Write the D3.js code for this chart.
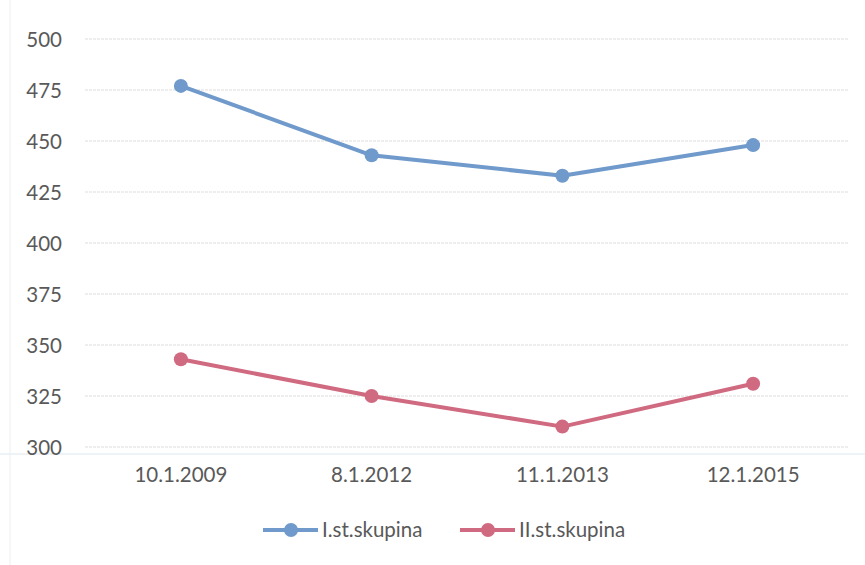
<!DOCTYPE html>
<html><head><meta charset="utf-8">
<script src="https://cdn.jsdelivr.net/npm/d3@7"></script>
<style>body{margin:0;background:#fff}svg{display:block}</style>
</head><body><svg id="c" width="865" height="565"></svg>
<script>
const categories = ["10.1.2009", "8.1.2012", "11.1.2013", "12.1.2015"];
const series1Name = "I.st.skupina";
const series1 = [477, 443, 433, 448];
const series2Name = "II.st.skupina";
const series2 = [343, 325, 310, 331];
const yTicks = [300, 325, 350, 375, 400, 425, 450, 475, 500];

const svg = d3.select("#c");
const W = 865, H = 565;
const x = d3.scaleBand().domain(categories).range([85.5, 848.5]);
const y = d3.scaleLinear().domain([300, 500]).range([447, 39]);
const font = "Lato, 'Open Sans', sans-serif";
const fs = 20.5;

// faint scan artifacts
svg.append("line").attr("x1",0).attr("x2",W).attr("y1",454).attr("y2",454).attr("stroke","#dde6ee").attr("stroke-width",1);
svg.append("line").attr("x1",10).attr("x2",10).attr("y1",0).attr("y2",H).attr("stroke","#eeeeee").attr("stroke-width",1);

// gridlines
svg.append("g").selectAll("line").data(yTicks).join("line")
  .attr("x1",85).attr("x2",849)
  .attr("y1",d=>y(d)).attr("y2",d=>y(d))
  .attr("stroke","#dedede").attr("stroke-width",1.2).attr("stroke-dasharray","3,1");

// y axis
const ya = svg.append("g").attr("transform","translate(62,0)")
  .call(d3.axisLeft(y).tickValues(yTicks).tickSize(0).tickPadding(0));
ya.select(".domain").remove();
ya.selectAll("text").attr("font-family",font).attr("font-size",fs).attr("fill","#595959").attr("dy","0.35em");

// x axis
const xa = svg.append("g").attr("transform","translate(0,467)")
  .call(d3.axisBottom(x).tickSize(0).tickPadding(0));
xa.select(".domain").remove();
xa.selectAll("text").attr("font-family",font).attr("font-size",fs).attr("fill","#595959").attr("dy","0.71em");

const cx = d => x(d) + x.bandwidth()/2;
const line = d3.line().x((d,i)=>cx(categories[i])).y(d=>y(d));
[[series1,"#6f9acb"],[series2,"#d06a80"]].forEach(([s,c])=>{
  svg.append("path").datum(s).attr("d",line).attr("fill","none").attr("stroke",c).attr("stroke-width",4).attr("stroke-linejoin","round");
  svg.append("g").selectAll("circle").data(s).join("circle")
    .attr("cx",(d,i)=>cx(categories[i])).attr("cy",d=>y(d)).attr("r",7).attr("fill",c);
});

// legend
const leg = [[series1Name,"#6f9acb",263],[series2Name,"#d06a80",460]];
leg.forEach(([n,c,lx])=>{
  svg.append("line").attr("x1",lx).attr("x2",lx+55).attr("y1",530).attr("y2",530).attr("stroke",c).attr("stroke-width",4);
  svg.append("circle").attr("cx",lx+28).attr("cy",530).attr("r",7).attr("fill",c);
  svg.append("text").attr("x",lx+59).attr("y",530).attr("dy","0.35em").attr("font-family",font).attr("font-size",fs).attr("fill","#595959").text(n);
});
</script></body></html>
